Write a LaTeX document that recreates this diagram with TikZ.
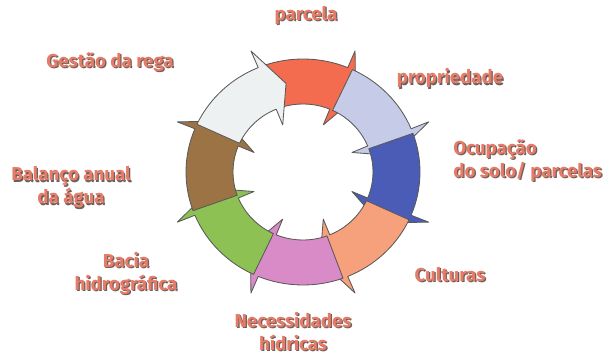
\documentclass[tikz,border=0pt]{standalone}
\usepackage{fontspec}
\setmainfont{Fira Sans}
\usepackage{xcolor}
\usetikzlibrary{positioning}

\definecolor{segred}{HTML}{F36C4F}
\definecolor{seglav}{HTML}{C6CBE7}
\definecolor{segblue}{HTML}{4A5CB6}
\definecolor{segsalmon}{HTML}{F6A17B}
\definecolor{segpink}{HTML}{D98BC8}
\definecolor{seggreen}{HTML}{8DC153}
\definecolor{segbrown}{HTML}{9C7345}
\definecolor{segwhite}{HTML}{EEF1F2}
\definecolor{lblfill}{HTML}{E67C68}
\definecolor{lblshadow}{HTML}{6E5F5C}

% label text with its drop shadow
\newcommand{\lbltext}[1]{\makebox[0pt][l]{\kern0.9pt\raisebox{-0.9pt}{\textcolor{lblshadow}{#1}}}\textcolor{lblfill}{#1}}

% one curved arrow of the ring, #1 colour, #2 centre angle
\newcommand{\segarrow}[2]{%
  \draw[seg, fill=#1] (#2+20:117 and 113)
    arc[start angle=#2+20, end angle=#2-22.5, x radius=117, y radius=113]
    -- (#2-22.5:136 and 131) -- (#2-34.5:93 and 90) -- (#2-22.5:53 and 51)
    -- (#2-22.5:70 and 68)
    arc[start angle=#2-22.5, end angle=#2+20, x radius=70, y radius=68] -- cycle;}

\tikzset{
  seg/.style={draw=black!65, line width=0.6pt, line join=round, shift={(303,184)}},
  lbl/.style={font=\fontsize{13.3}{16.5}\selectfont\bfseries, align=center, inner sep=0pt}
}

\begin{document}
\begin{tikzpicture}[x=0.025cm, y=0.025cm]
\useasboundingbox[fill=white] (0,0) rectangle (608,356);

%%% ring

\segarrow{segred}{90}
\segarrow{seglav}{45}
\segarrow{segblue}{0}
\segarrow{segsalmon}{-45}
\segarrow{segpink}{-90}
\segarrow{seggreen}{-135}
\segarrow{segbrown}{-180}
\segarrow{segwhite}{135}

%%% labels

\node[lbl] (parcela) at (306,340) {\lbltext{parcela}};
\node[lbl] (propriedade) at (450,277) {\lbltext{propriedade}};
\node[lbl, align=left, anchor=west] (ocupacao) at (453,195) {\lbltext{Ocupação}\\\lbltext{do solo/ parcelas}};
\node[lbl] (culturas) at (450,81) {\lbltext{Culturas}};
\node[lbl] (necessidades) at (293,24) {\lbltext{Necessidades}\\\lbltext{hídricas}};
\node[lbl] (bacia) at (126,82) {\lbltext{Bacia}\\\lbltext{hidrográfica}};
\node[lbl] (balanco) at (71,168) {\lbltext{Balanço anual}\\\lbltext{da água}};
\node[lbl] (gestao) at (110,293) {\lbltext{Gestão da rega}};
\end{tikzpicture}
\end{document}
